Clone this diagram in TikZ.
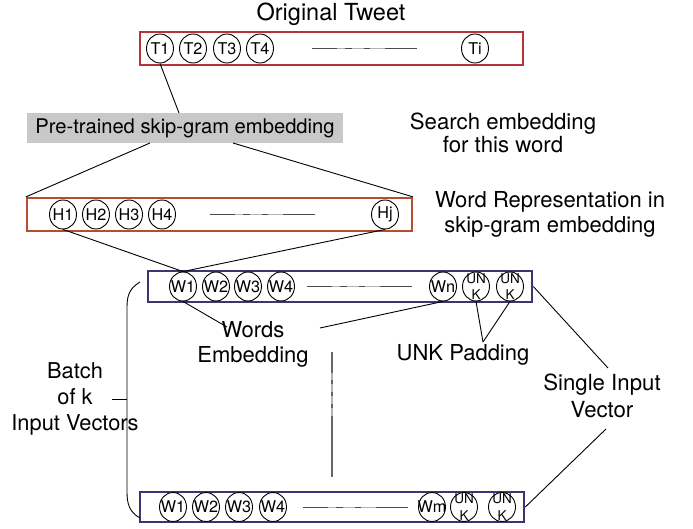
\documentclass[tikz,border=0pt]{standalone}
\usepackage{fontspec}
\setmainfont{TeX Gyre Heros}
\usetikzlibrary{shapes.geometric}
\definecolor{tweetred}{HTML}{B5343C}
\definecolor{hred}{HTML}{B84C32}
\definecolor{wnavy}{HTML}{3C3670}
\definecolor{boxgray}{HTML}{C8C8C8}
\tikzset{
  tok/.style={ellipse, draw, line width=0.9pt, minimum width=27pt, minimum height=29pt,
    inner xsep=-8pt, inner ysep=-4pt, fill=white, font=\fontsize{16.2}{17}\selectfont},
  unk/.style={tok, align=center, inner ysep=-12pt, font=\fontsize{13.5}{16.5}\selectfont},
  lbl/.style={align=center, font=\fontsize{22}{25}\selectfont},
  conn/.style={line width=0.9pt},
  rowbox/.style={draw, line width=2.2pt, inner sep=0pt},
  gapline/.pic={
    \draw[black!30, line width=1pt] (0,0) -- (105,0);
    \draw[black!70, line width=1pt] (0,0) -- (25,0) (33,0) -- (40,0) (52,0) -- (58,0) (73,0) -- (105,0);
  }
}
\begin{document}
\begin{tikzpicture}[x=1pt,y=-1pt]
\useasboundingbox (0,0) rectangle (693,529);

% titles and labels
\node[lbl, font=\fontsize{23.5}{26}\selectfont] (title) at (331,14) {Original Tweet};
\node[lbl, font=\fontsize{22.2}{23.5}\selectfont] (search) at (503,133) {Search embedding\\for this word};
\node[lbl] (wrep) at (550,214) {Word Representation in\\skip-gram embedding};
\node[lbl] (wemb) at (253,344) {Words\\Embedding};
\node[lbl] (unkpad) at (463,355) {UNK Padding};
\node[lbl, font=\fontsize{21.8}{26}\selectfont] (batch) at (75,399) {Batch\\of k\\Input Vectors};
\node[lbl, font=\fontsize{22.2}{27}\selectfont] (single) at (602,396) {Single Input\\Vector};

% row boxes
\node[rowbox, draw=tweetred, minimum width=383pt, minimum height=33pt] (tbox) at (331.5,48.5) {};
\node[rowbox, draw=hred, minimum width=385pt, minimum height=33pt] (hbox) at (219.5,214.5) {};
\node[rowbox, draw=wnavy, line width=2.6pt, minimum width=384pt, minimum height=31pt] (wboxa) at (340,286.5) {};
\node[rowbox, draw=wnavy, line width=2.6pt, minimum width=384pt, minimum height=30pt] (wboxb) at (332,507) {};

% gray embedding box
\node[fill=boxgray, minimum width=316pt, minimum height=30pt, inner sep=0pt,
      font=\fontsize{20.2}{24}\selectfont] (skip) at (185,128) {Pre-trained skip-gram embedding};

% tweet tokens
\node[tok] (T1) at (160,48.5) {T1};
\node[tok] (T2) at (193,48.5) {T2};
\node[tok] (T3) at (227,48.5) {T3};
\node[tok] (T4) at (260,48.5) {T4};
\node[tok] (Ti) at (475,48.5) {Ti};
\pic at (312,48.5) {gapline};

% H tokens
\node[tok] (H1) at (63,214.5) {H1};
\node[tok] (H2) at (96,214.5) {H2};
\node[tok] (H3) at (129,214.5) {H3};
\node[tok] (H4) at (162,214.5) {H4};
\node[tok] (Hj) at (385,214.5) {Hj};
\pic at (210,214.5) {gapline};

% W tokens (first vector)
\node[tok] (Wa1) at (183,286.5) {W1};
\node[tok] (Wa2) at (216,286.5) {W2};
\node[tok] (Wa3) at (248,286.5) {W3};
\node[tok] (Wa4) at (281,286.5) {W4};
\node[tok] (Wan) at (443,286.5) {Wn};
\node[unk] (Ua1) at (476,286.5) {UN\\K};
\node[unk] (Ua2) at (510,286.5) {UN\\K};
\pic at (307,286.5) {gapline};

% W tokens (last vector)
\node[tok] (Wb1) at (173,507) {W1};
\node[tok] (Wb2) at (206,507) {W2};
\node[tok] (Wb3) at (239,507) {W3};
\node[tok] (Wb4) at (273,507) {W4};
\node[tok] (Wbm) at (432,507) {Wm};
\node[unk] (Ub1) at (464,507) {UN\\K};
\node[unk] (Ub2) at (502,507) {UN\\K};
\pic at (303,507) {gapline};

% free ends
\coordinate (skiptop) at (179,113);
\coordinate (skipbl) at (150,143);
\coordinate (skipbr) at (233,143);
\coordinate (wordsL) at (227,327);
\coordinate (wordsR) at (320,328);
\coordinate (unkpt) at (483,342);
\coordinate (singleT) at (608,368);
\coordinate (singleB) at (606,429);

% connectors
\draw[conn] (T1.south) -- (skiptop);
\draw[conn] (skipbl) -- (hbox.north west);
\draw[conn] (skipbr) -- (hbox.north east);
\draw[conn] (H1.south) -- (Wa1.north);
\draw[conn] (Hj.south) -- (Wa1.north);
\draw[conn] (Wa1.south) -- (wordsL);
\draw[conn] (Wan.south) -- (wordsR);
\draw[conn] (Ua1.south) -- (unkpt);
\draw[conn] (Ua2.south) -- (unkpt);
\draw[conn] (wboxa.east) -- (singleT);
\draw[conn] (singleB) -- (wboxb.east);

% batch brace
\coordinate (brA) at (140,282);
\coordinate (brB) at (140,518);
\coordinate (brT) at (112,399);
\draw[conn] (brA) .. controls (128,289) and (127,298) .. (127,308) -- (127,492)
  .. controls (127,503) and (129,512) .. (brB);
\draw[conn] (brT) -- (127,399);

% vertical ellipsis between vectors
\draw[black!30, line width=1.3pt] (332,352) -- (332,477);
\draw[black!60, line width=1.3pt] (332,352) -- (332,373) (332,380) -- (332,384)
  (332,392) -- (332,396) (332,404) -- (332,408) (332,416) -- (332,477);
\end{tikzpicture}
\end{document}
